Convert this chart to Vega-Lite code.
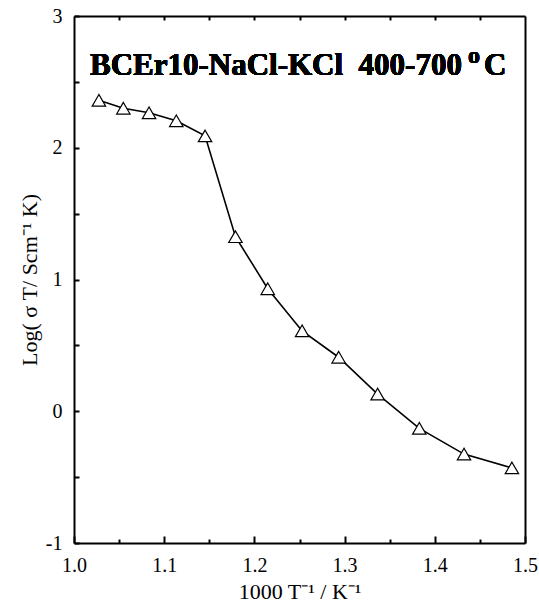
{
  "$schema": "https://vega.github.io/schema/vega-lite/v6.json",
  "width": 451,
  "height": 527,
  "autosize": {"type": "none"},
  "padding": {"left": 74, "top": 16, "right": 14, "bottom": 66},
  "background": "white",
  "config": {"view": {"stroke": null}},
  "data": {"values": [
    {"x": 1.0276, "y": 2.36},
    {"x": 1.0547, "y": 2.30},
    {"x": 1.0832, "y": 2.265},
    {"x": 1.1134, "y": 2.205},
    {"x": 1.1453, "y": 2.09},
    {"x": 1.1790, "y": 1.325},
    {"x": 1.2148, "y": 0.93},
    {"x": 1.2529, "y": 0.61},
    {"x": 1.2934, "y": 0.41},
    {"x": 1.3366, "y": 0.13},
    {"x": 1.3828, "y": -0.13},
    {"x": 1.4324, "y": -0.325},
    {"x": 1.4855, "y": -0.43}
  ]},
  "resolve": {"axis": {"x": "independent", "y": "independent"}},
  "layer": [
    {
      "layer": [
        {
          "mark": {"type": "line", "color": "black", "strokeWidth": 1.6},
          "encoding": {
            "x": {"field": "x", "type": "quantitative", "sort": null},
            "y": {"field": "y", "type": "quantitative"}
          }
        },
        {
          "mark": {"type": "point", "shape": "triangle-up", "size": 180, "filled": true, "fill": "white", "stroke": "black", "strokeWidth": 1.2, "opacity": 1},
          "encoding": {
            "x": {"field": "x", "type": "quantitative"},
            "y": {"field": "y", "type": "quantitative"}
          }
        },
        {
          "mark": {"type": "text", "text": "BCEr10-NaCl-KCl\u00a0\u00a0400-700", "font": "Liberation Serif", "fontWeight": "bold", "fontSize": 31, "align": "left", "baseline": "alphabetic", "color": "black"},
          "encoding": {"x": {"datum": 1.0177}, "y": {"datum": 2.552}}
        },
        {
          "mark": {"type": "text", "text": "o", "font": "Liberation Serif", "fontWeight": "bold", "fontSize": 24, "align": "left", "baseline": "alphabetic", "color": "black"},
          "encoding": {"x": {"datum": 1.4368}, "y": {"datum": 2.643}}
        },
        {
          "mark": {"type": "text", "text": "C", "font": "Liberation Serif", "fontWeight": "bold", "fontSize": 31, "align": "left", "baseline": "alphabetic", "color": "black"},
          "encoding": {"x": {"datum": 1.4545}, "y": {"datum": 2.552}}
        }
      ],
      "encoding": {
        "x": {
          "type": "quantitative",
          "scale": {"domain": [1.0, 1.5], "nice": false, "zero": false},
          "axis": {
            "orient": "bottom",
            "values": [1.0, 1.05, 1.1, 1.15, 1.2, 1.25, 1.3, 1.35, 1.4, 1.45, 1.5],
            "labelExpr": "round(datum.value*20)%2==0 ? format(datum.value,'.1f') : ''",
            "tickSize": {"condition": {"test": "round(datum.value*20)%2==0", "value": -7}, "value": -4},
            "tickWidth": 2,
            "tickColor": "black",
            "domainColor": "black",
            "domainWidth": 2,
            "grid": false,
            "labelFont": "Liberation Serif",
            "labelFontSize": 20,
            "labelColor": "black",
            "labelPadding": 19,
            "labelFlush": false,
            "labelOverlap": false,
            "title": "1000 T\u207b\u00b9 / K\u207b\u00b9",
            "titleFont": "Liberation Serif",
            "titleFontSize": 22,
            "titleFontWeight": "normal",
            "titleColor": "black",
            "titlePadding": 3
          }
        },
        "y": {
          "type": "quantitative",
          "scale": {"domain": [-1, 3], "nice": false, "zero": false},
          "axis": {
            "orient": "left",
            "values": [-1, -0.5, 0, 0.5, 1, 1.5, 2, 2.5, 3],
            "labelExpr": "datum.value % 1 == 0 ? '' + datum.value : ''",
            "tickSize": -5,
            "tickWidth": 2,
            "tickColor": "black",
            "domainColor": "black",
            "domainWidth": 2,
            "grid": false,
            "labelFont": "Liberation Serif",
            "labelFontSize": 20,
            "labelColor": "black",
            "labelPadding": 17,
            "labelFlush": false,
            "labelOverlap": false,
            "title": "Log(  \u03c3 T/ Scm\u207b\u00b9 K)",
            "titleFont": "Liberation Serif",
            "titleFontSize": 22,
            "titleFontWeight": "normal",
            "titleColor": "black",
            "titlePadding": 4
          }
        }
      }
    },
    {
      "mark": {"type": "point", "opacity": 0},
      "encoding": {
        "x": {
          "field": "x", "type": "quantitative",
          "scale": {"domain": [1.0, 1.5], "nice": false, "zero": false},
          "axis": {
            "orient": "top",
            "values": [1.05, 1.1, 1.15, 1.2, 1.25, 1.3, 1.35, 1.4, 1.45],
            "labels": false,
            "title": null,
            "tickSize": -4,
            "tickWidth": 2,
            "tickColor": "black",
            "domainColor": "black",
            "domainWidth": 2,
            "grid": false
          }
        },
        "y": {
          "field": "y", "type": "quantitative",
          "scale": {"domain": [-1, 3], "nice": false, "zero": false},
          "axis": {
            "orient": "right",
            "values": [],
            "labels": false,
            "ticks": false,
            "title": null,
            "domainColor": "black",
            "domainWidth": 2,
            "grid": false
          }
        }
      }
    }
  ]
}
